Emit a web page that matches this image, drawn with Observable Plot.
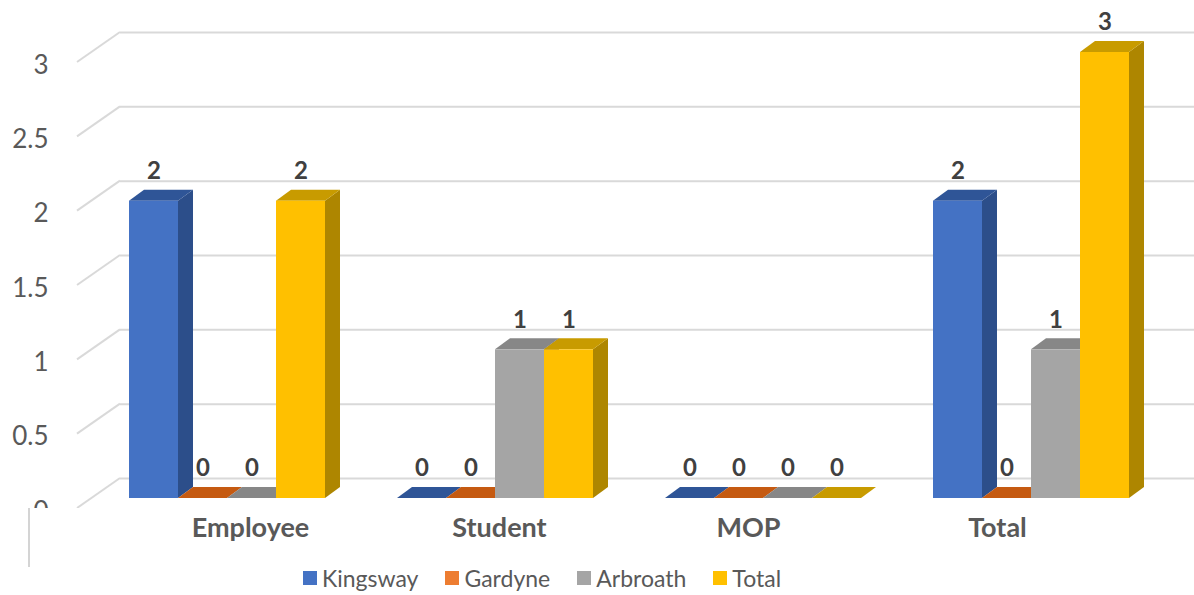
<!DOCTYPE html>
<html>
<head>
<meta charset="utf-8">
<script src="https://cdn.jsdelivr.net/npm/d3@7"></script>
<script src="https://cdn.jsdelivr.net/npm/@observablehq/plot@0.6"></script>
<style>
  body { margin: 0; background: #fff; font-family: Lato, "Open Sans", sans-serif; }
  #chart { position: relative; width: 1194px; height: 595px; overflow: hidden; background: #fff; }
  .layer { position: absolute; left: 0; top: 0; }
  .clip { overflow: hidden; height: 508px; width: 1194px; }
  .stub { position: absolute; left: 28px; top: 508px; height: 59px; border-left: 2px solid #d4d4d4; }
  .legend-box { position: absolute; left: 303px; top: 561px; }
  .lg-swatch { margin-right: 27px !important; color: #595959; }
  .lg-swatch > svg { margin-right: 5px !important; }
</style>
</head>
<body>
<div id="chart"></div>
<script>
// Categories along the axis and the four series plotted for each
const categories = ["Employee", "Student", "MOP", "Total"];
const series = ["Kingsway", "Gardyne", "Arbroath", "Total"];

// Counts per category, one array per series
const kingsway = [2, 0, 0, 2];
const gardyne  = [0, 0, 0, 0];
const arbroath = [0, 1, 0, 1];
const total    = [2, 1, 0, 3];

// Value axis ticks
const yTicks = [0, 0.5, 1, 1.5, 2, 2.5, 3];

// Face colours of the 3-D columns (front, top, right side)
const frontColors = ["#4472C4", "#ED7D31", "#A5A5A5", "#FFC000"];
const topColors   = ["#2F5597", "#C55A11", "#878787", "#C89B00"];
const sideColors  = ["#2C4E8A", "#A9531A", "#7B7B7B", "#AE8600"];

const rows = categories.flatMap((category, i) =>
  [kingsway, gardyne, arbroath, total].map((values, j) => ({
    category, series: series[j], value: values[i]
  }))
);

// 3-D geometry: column depth and how far the back wall sits behind the columns
const DEPTH_X = 15, DEPTH_Y = 11;
const WALL_DY = 20;
const WALL_RUN = 43, WALL_DROP = 30;

const Y_DOMAIN = [0, 3];
const PLOT_H = 508, M_TOP = 52, M_BOTTOM = 10;

const chart = document.getElementById("chart");

// ---- Back wall: gridlines, floor-to-wall diagonals and value labels ----
const wall = Plot.plot({
  width: 1194,
  height: PLOT_H,
  marginTop: M_TOP,
  marginBottom: M_BOTTOM,
  marginLeft: 120,
  marginRight: 0,
  style: { background: "transparent", fontFamily: "Lato, sans-serif" },
  y: { domain: Y_DOMAIN, axis: null },
  marks: [
    Plot.ruleY(yTicks, { y: d => d, dy: -WALL_DY, stroke: "#d9d9d9", strokeWidth: 2 }),
    Plot.ruleY(yTicks, {
      y: d => d,
      render(index, scales, values, dims) {
        const g = d3.create("svg:g").attr("stroke", "#d9d9d9").attr("stroke-width", 2);
        for (const i of index) {
          const y = scales.y(yTicks[i]) - WALL_DY;
          g.append("line")
            .attr("x1", dims.marginLeft - WALL_RUN).attr("y1", y + WALL_DROP)
            .attr("x2", dims.marginLeft).attr("y2", y);
        }
        return g.node();
      }
    }),
    Plot.text(yTicks, {
      y: d => d, text: d => String(d),
      frameAnchor: "left", textAnchor: "end", dx: -72, dy: 13,
      fontSize: 26, fill: "#595959"
    })
  ]
});
const wallBox = document.createElement("div");
wallBox.className = "layer clip";
wallBox.appendChild(wall);
chart.appendChild(wallBox);

// ---- Columns drawn as front, top and side faces ----
function columns3d(index, scales) {
  const g = d3.create("svg:g");
  const bw = scales.x.bandwidth();
  const y0 = scales.y(0);
  for (const i of index) {
    const d = rows[i];
    const k = series.indexOf(d.series);
    const x1 = scales.x(d.series), x2 = x1 + bw;
    const yt = scales.y(d.value);
    const poly = (pts, fill) => g.append("polygon")
      .attr("points", pts.map(p => p.join(",")).join(" "))
      .attr("fill", fill);
    if (d.value > 0) {
      poly([[x2, y0], [x2, yt], [x2 + DEPTH_X, yt - DEPTH_Y], [x2 + DEPTH_X, y0 - DEPTH_Y]], sideColors[k]);
      poly([[x1, yt], [x2, yt], [x2 + DEPTH_X, yt - DEPTH_Y], [x1 + DEPTH_X, yt - DEPTH_Y]], topColors[k]);
      g.append("rect").attr("x", x1).attr("y", yt).attr("width", bw).attr("height", y0 - yt)
        .attr("fill", frontColors[k]);
    } else {
      poly([[x1, y0], [x2, y0], [x2 + DEPTH_X, y0 - DEPTH_Y], [x1 + DEPTH_X, y0 - DEPTH_Y]], topColors[k]);
    }
  }
  return g.node();
}

const bars = Plot.plot({
  width: 1194,
  height: PLOT_H,
  marginTop: M_TOP,
  marginBottom: M_BOTTOM,
  marginLeft: 92,
  marginRight: 28,
  style: { background: "transparent", fontFamily: "Lato, sans-serif" },
  fx: { domain: categories, paddingInner: 0.27, paddingOuter: 0.135, axis: null, label: null },
  x: { domain: series, padding: 0, axis: null },
  y: { domain: Y_DOMAIN, axis: null },
  marks: [
    Plot.barY(rows, { fx: "category", x: "series", y: "value", render: columns3d }),
    Plot.text(rows, {
      fx: "category", x: "series", y: "value", text: d => String(d.value),
      dy: -30, fontSize: 24, fontWeight: "bold", fill: "#404040"
    })
  ]
});
bars.classList.add("layer");
chart.appendChild(bars);

// ---- Category labels under the floor (set in perspective, so spaced apart from the columns) ----
const catAxis = Plot.plot({
  width: 1194,
  height: 50,
  marginTop: 0,
  marginBottom: 0,
  marginLeft: 250,
  marginRight: 197,
  style: { background: "transparent", fontFamily: "Lato, sans-serif" },
  x: { type: "point", domain: categories, padding: 0, axis: null },
  marks: [
    Plot.text(categories, {
      x: d => d, text: d => d, frameAnchor: "middle",
      fontSize: 27, fontWeight: "bold", fill: "#595959"
    })
  ]
});
catAxis.classList.add("layer");
catAxis.style.top = "503px";
chart.appendChild(catAxis);

const stub = document.createElement("div");
stub.className = "stub";
chart.appendChild(stub);

// ---- Legend ----
const legend = Plot.legend({
  color: { type: "ordinal", domain: series, range: frontColors },
  legend: "swatches",
  swatchSize: 14,
  className: "lg",
  style: { fontSize: "23px", fontFamily: "Lato, sans-serif", color: "#595959" }
});
const legendBox = document.createElement("div");
legendBox.className = "legend-box";
legendBox.appendChild(legend);
chart.appendChild(legendBox);
</script>
</body>
</html>
